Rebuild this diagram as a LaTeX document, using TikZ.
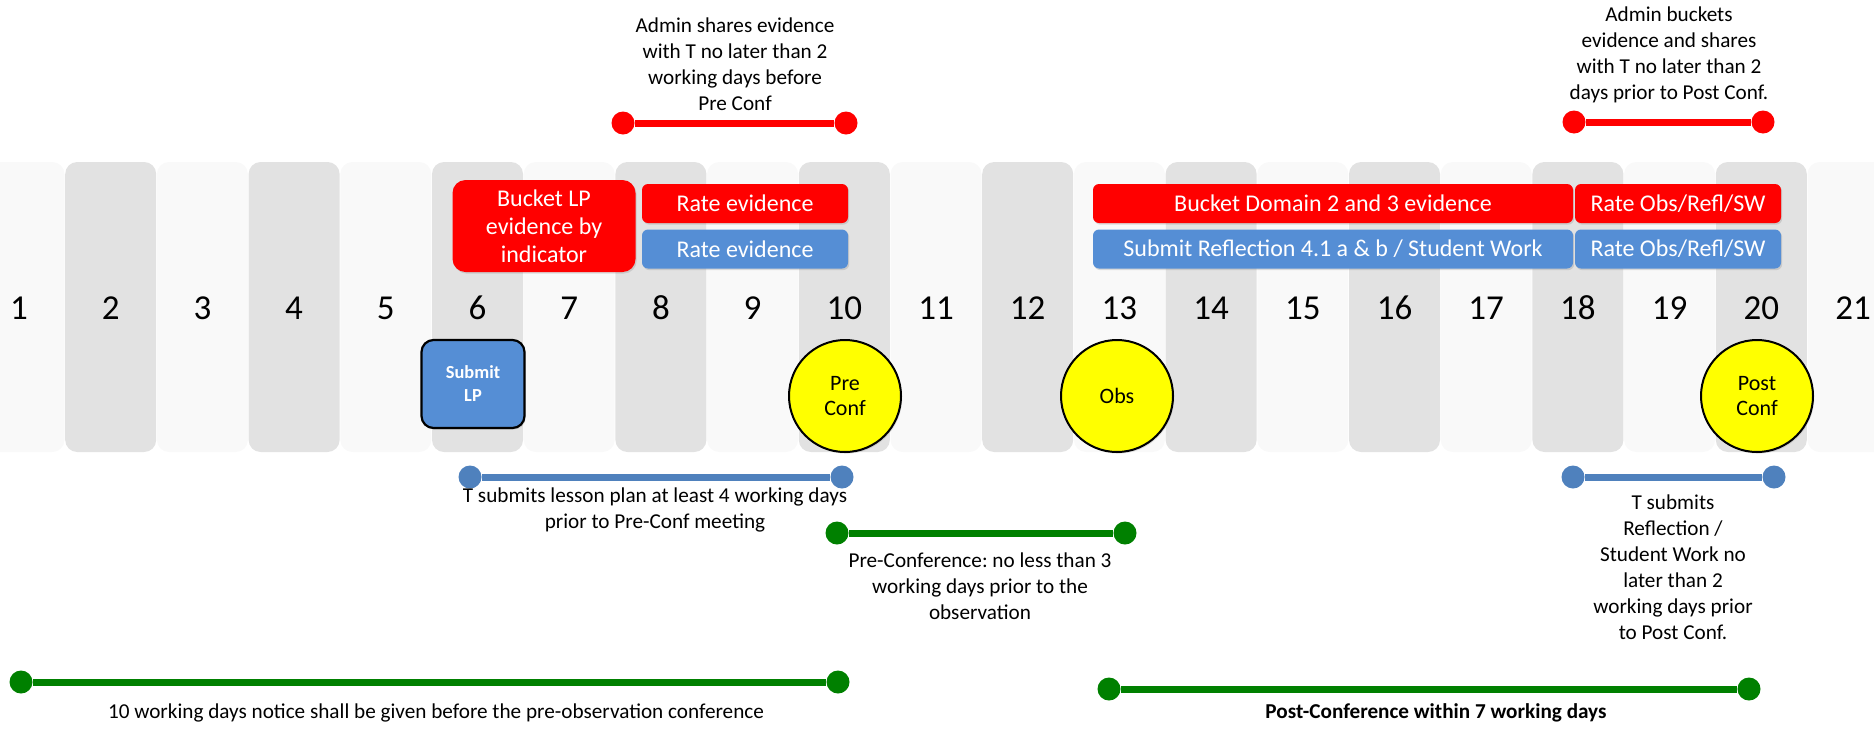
\documentclass[tikz,border=0pt]{standalone}
\usepackage{fontspec}
\setmainfont{Carlito}
\frenchspacing
\usetikzlibrary{shadows}
\definecolor{myred}{RGB}{255,0,0}
\definecolor{myblue}{RGB}{85,142,213}
\definecolor{mybarblue}{RGB}{79,129,189}
\definecolor{mygreen}{RGB}{0,128,0}
\definecolor{myyellow}{RGB}{255,255,0}
\definecolor{dayodd}{RGB}{249,249,249}
\definecolor{dayeven}{RGB}{226,226,226}

\tikzset{
    daynum/.style={font=\fontsize{17.5}{21}\selectfont, inner sep=0pt},
    note/.style={align=center, font=\fontsize{10.6}{13}\selectfont, inner sep=0pt},
    taskbox/.style={rounded corners=3pt, text=white, inner sep=0pt,
        font=\fontsize{12}{14.5}\selectfont, align=center,
        drop shadow={opacity=0.25, shadow xshift=0.6pt, shadow yshift=-0.8pt}},
    redbox/.style={taskbox, fill=myred, minimum height=19.5pt},
    bluebox/.style={taskbox, fill=myblue, minimum height=19.5pt},
    meeting/.style={circle, draw=black, line width=1pt, fill=myyellow,
        minimum size=56pt, inner sep=0pt, align=center,
        font=\fontsize{11}{12.5}\selectfont,
        drop shadow={opacity=0.25, shadow xshift=0.6pt, shadow yshift=-0.8pt}},
    dot/.style={circle, minimum size=11.5pt, inner sep=0pt},
    bar/.style={line width=3.5pt},
}

\begin{document}
\begin{tikzpicture}[x=0.5pt, y=-0.5pt]
    \useasboundingbox (0, 0) rectangle (1874, 729);
    \begin{scope}
        % Day columns and numbers
        \foreach \n in {1, ..., 21} {
            \pgfmathsetmacro{\dx}{19 + 91.7*(\n - 1)}
            \pgfmathparse{isodd(\n) ? "dayodd" : "dayeven"}
            \fill[\pgfmathresult, rounded corners=6pt] (\dx - 45.5, 162) rectangle (\dx + 45.5, 452);
            \node[daynum] (d\n) at (\dx, 308) {\n};
        }

        % Admin tasks (red) and teacher tasks (blue)
        \node[redbox, rounded corners=6.5pt, minimum width=91.5pt, minimum height=46pt,
            font=\fontsize{12}{14}\selectfont] (bucketlp) at (544, 226) {Bucket LP\\evidence by\\indicator};
        \node[redbox, minimum width=103pt] (ratered) at (745, 203.5) {Rate evidence};
        \node[bluebox, minimum width=103pt] (rateblue) at (745, 249) {Rate evidence};
        \node[redbox, minimum width=240pt] (domred) at (1333, 203.5) {Bucket Domain 2 and 3 evidence};
        \node[bluebox, minimum width=240pt] (reflblue) at (1333, 249) {Submit Reflection 4.1 a \& b / Student Work};
        \node[redbox, minimum width=103pt] (obsred) at (1678, 203.5) {Rate Obs/Refl/SW};
        \node[bluebox, minimum width=103pt] (obsblue) at (1678, 249) {Rate Obs/Refl/SW};
        \node[bluebox, draw=black, line width=1.1pt, rounded corners=6pt, minimum width=51.5pt,
            minimum height=44pt, font=\fontsize{9.2}{11.5}\selectfont\bfseries] (submitlp) at (473, 384) {Submit\\LP};

        % Meetings
        \node[meeting] (preconf) at (845, 396) {Pre\\Conf};
        \node[meeting] (obs) at (1117, 396) {Obs};
        \node[meeting] (postconf) at (1757, 396) {Post\\Conf};

        % Admin shares evidence
        \node[dot, fill=myred] (as1) at (623, 123) {};
        \node[dot, fill=myred] (as2) at (846, 123) {};
        \draw[bar, myred] (as1) -- (as2);
        \node[note] (astext) at (735, 64) {Admin shares evidence\\with T no later than 2\\working days before\\Pre Conf};

        % Admin buckets evidence
        \node[dot, fill=myred] (ab1) at (1574, 122) {};
        \node[dot, fill=myred] (ab2) at (1763, 122) {};
        \draw[bar, myred] (ab1) -- (ab2);
        \node[note] (abtext) at (1669, 55) {Admin buckets\\evidence and shares\\with T no later than 2\\days prior to Post Conf.};

        % T submits lesson plan
        \node[dot, fill=mybarblue] (tl1) at (470, 477) {};
        \node[dot, fill=mybarblue] (tl2) at (842, 477) {};
        \draw[bar, mybarblue] (tl1) -- (tl2);
        \node[note] (tltext) at (655, 510) {T submits lesson plan at least 4 working days\\prior to Pre-Conf meeting};

        % Pre-Conference window
        \node[dot, fill=mygreen] (pc1) at (837, 533) {};
        \node[dot, fill=mygreen] (pc2) at (1125, 533) {};
        \draw[bar, mygreen] (pc1) -- (pc2);
        \node[note] (pctext) at (980, 586) {Pre-Conference: no less than 3\\working days prior to the\\observation};

        % T submits reflection
        \node[dot, fill=mybarblue] (tr1) at (1573, 477) {};
        \node[dot, fill=mybarblue] (tr2) at (1774, 477) {};
        \draw[bar, mybarblue] (tr1) -- (tr2);
        \node[note] (trtext) at (1673, 567) {T submits\\Reflection /\\Student Work no\\later than 2\\working days prior\\to Post Conf.};

        % Notice before pre-observation conference
        \node[dot, fill=mygreen] (tn1) at (21, 682) {};
        \node[dot, fill=mygreen] (tn2) at (838, 682) {};
        \draw[bar, mygreen] (tn1) -- (tn2);
        \node[note] (tntext) at (436, 713) {10 working days notice shall be given before the pre-observation conference};

        % Post-Conference window
        \node[dot, fill=mygreen] (pw1) at (1109, 689) {};
        \node[dot, fill=mygreen] (pw2) at (1749, 689) {};
        \draw[bar, mygreen] (pw1) -- (pw2);
        \node[note, font=\fontsize{10.6}{13}\selectfont\bfseries] (pwtext) at (1436, 713) {Post-Conference within 7 working days};
    \end{scope}
\end{tikzpicture}
\end{document}
